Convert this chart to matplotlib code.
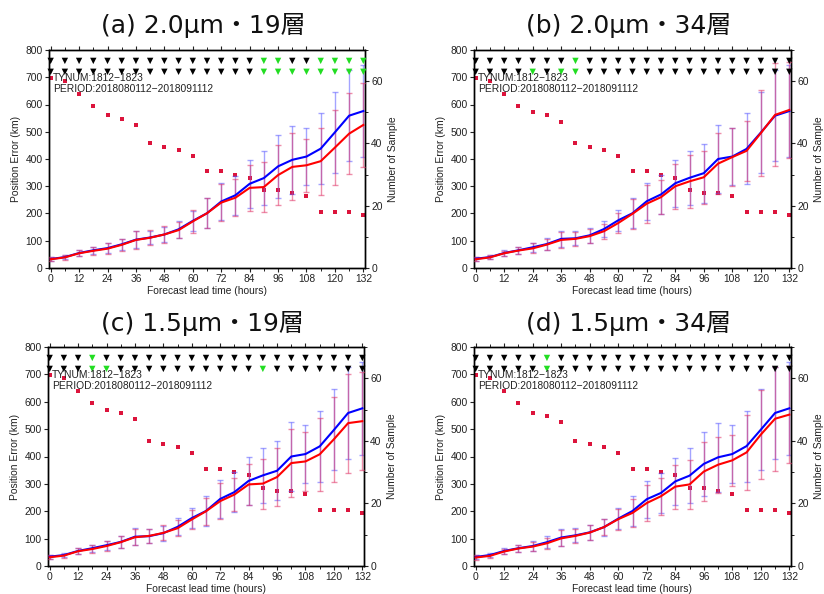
import matplotlib
matplotlib.use('Agg')
import matplotlib.pyplot as plt
from matplotlib.ticker import MultipleLocator

plt.rcParams['font.family'] = ['Liberation Sans', 'DejaVu Sans']

# ---------------- data ----------------
lead = [0, 6, 12, 18, 24, 30, 36, 42, 48, 54, 60, 66, 72, 78, 84, 90, 96, 102, 108, 114, 120, 126, 132]

titles = ['(a) 2.0μm・19層', '(b) 2.0μm・34層', '(c) 1.5μm・19層', '(d) 1.5μm・34層']

# control (blue) mean error and std, two sample sets
blue_A = [33, 40, 55, 65, 73, 87, 104, 112, 123, 142, 173, 201, 244, 267, 309, 330, 373, 397, 409, 438, 498, 559, 576]
blue_B = [34, 40, 55, 65, 76, 88, 107, 109, 120, 143, 175, 201, 245, 270, 311, 331, 348, 400, 409, 437, 497, 559, 576]
blue_std_A = [8, 7, 10, 13, 17, 21, 30, 25, 27, 31, 38, 55, 68, 72, 87, 100, 116, 125, 105, 130, 148, 168, 170]
blue_std_B = [8, 7, 10, 13, 17, 21, 30, 25, 27, 31, 38, 55, 68, 72, 87, 100, 108, 125, 105, 130, 148, 168, 170]

# experiment (red) mean error and std
red_a = [32, 39, 54, 63, 71, 85, 103, 111, 123, 139, 171, 201, 240, 258, 294, 297, 341, 371, 377, 392, 442, 493, 525]
red_b = [32, 39, 54, 64, 72, 86, 103, 107, 117, 135, 165, 199, 236, 260, 300, 318, 333, 383, 407, 430, 495, 562, 580]
red_c = [32, 38, 54, 62, 73, 87, 105, 110, 121, 138, 170, 200, 237, 261, 298, 301, 325, 376, 382, 408, 463, 522, 529]
red_d = [31, 37, 53, 64, 71, 83, 101, 110, 122, 142, 171, 194, 230, 255, 290, 298, 345, 370, 386, 415, 480, 538, 553]
red_std_a = [8, 8, 11, 15, 20, 23, 32, 28, 30, 29, 43, 55, 68, 69, 84, 92, 109, 123, 97, 123, 137, 148, 155]
red_std_b = [8, 7, 10, 14, 18, 21, 30, 26, 27, 28, 37, 55, 70, 63, 83, 97, 98, 113, 105, 109, 158, 189, 175]
red_std_c = [8, 7, 10, 13, 17, 21, 29, 25, 27, 29, 34, 49, 66, 61, 76, 91, 107, 124, 107, 133, 156, 181, 178]
red_std_d = [8, 7, 10, 13, 17, 21, 29, 25, 27, 30, 39, 51, 65, 68, 80, 89, 108, 103, 92, 138, 162, 190, 177]

# number of samples
n_A = [61, 60, 56, 52, 49, 48, 46, 40, 39, 38, 36, 31, 31, 30, 29, 25, 25, 24, 23, 18, 18, 18, 17]
n_B = [61, 60, 56, 52, 50, 49, 47, 40, 39, 38, 36, 31, 31, 30, 29, 25, 24, 24, 23, 18, 18, 18, 17]

# significance markers (lead hours shown green); upper row / lower row
green_top_a = [90, 96, 114, 120, 126, 132]
green_bot_a = [90, 96, 102, 108, 114, 120, 126, 132]
green_top_b = [42]
green_bot_b = [24, 36, 42]
green_top_c = [18]
green_bot_c = [18, 24, 90]
green_top_d = [30]
green_bot_d = [30]

panels = [
    dict(title=titles[0], blue=blue_A, bstd=blue_std_A, red=red_a, rstd=red_std_a, n=n_A, gt=green_top_a, gb=green_bot_a),
    dict(title=titles[1], blue=blue_B, bstd=blue_std_B, red=red_b, rstd=red_std_b, n=n_B, gt=green_top_b, gb=green_bot_b),
    dict(title=titles[2], blue=blue_B, bstd=blue_std_B, red=red_c, rstd=red_std_c, n=n_B, gt=green_top_c, gb=green_bot_c),
    dict(title=titles[3], blue=blue_A, bstd=blue_std_A, red=red_d, rstd=red_std_d, n=n_A, gt=green_top_d, gb=green_bot_d),
]

# ---------------- layout ----------------
W, H = 824, 594
fig = plt.figure(figsize=(W / 100, H / 100), dpi=100)

rects_px = [(49, 50, 316, 218), (474, 50, 317, 218), (48, 347, 316, 219), (474, 347, 317, 219)]
txtc = '#222222'
fs = 7.4

for p, (x0, y0, w, h) in zip(panels, rects_px):
    ax = fig.add_axes([x0 / W, 1 - (y0 + h) / H, w / W, h / H])
    ax2 = ax.twinx()
    ax.set_zorder(ax2.get_zorder() + 1)
    ax.patch.set_visible(False)

    ax.errorbar(lead, p['blue'], yerr=p['bstd'], fmt='none', ecolor=(0.35, 0.35, 1.0, 0.55),
                elinewidth=1.0, capsize=2.2, capthick=1.0, zorder=2)
    ax.errorbar(lead, p['red'], yerr=p['rstd'], fmt='none', ecolor=(0.88, 0.2, 0.4, 0.55),
                elinewidth=1.0, capsize=2.2, capthick=1.0, zorder=3)
    ax.plot(lead, p['blue'], color='#0000ff', lw=1.5, zorder=4)
    ax.plot(lead, p['red'], color='#ff0000', lw=1.5, zorder=5)

    top_cols = ['#22dd22' if t in p['gt'] else 'black' for t in lead]
    bot_cols = ['#22dd22' if t in p['gb'] else 'black' for t in lead]
    ax.scatter(lead, [760] * len(lead), marker='v', s=21, c=top_cols, linewidths=0, zorder=6, clip_on=False)
    ax.scatter(lead, [720] * len(lead), marker='v', s=21, c=bot_cols, linewidths=0, zorder=6, clip_on=False)

    ax2.plot(lead, p['n'], 's', color='#dc143c', ms=2.5, mew=0)

    ax.set_xlim(-0.7, 132.7)
    ax.set_ylim(0, 800)
    ax2.set_ylim(0, 70)
    ax.xaxis.set_major_locator(MultipleLocator(12))
    ax.xaxis.set_minor_locator(MultipleLocator(6))
    ax.yaxis.set_major_locator(MultipleLocator(100))
    ax2.yaxis.set_major_locator(MultipleLocator(20))
    ax2.yaxis.set_minor_locator(MultipleLocator(10))

    ax.tick_params(axis='both', which='major', direction='out', length=3, width=0.8,
                   labelsize=fs, colors=txtc, pad=1.5)
    ax.tick_params(axis='x', which='both', top=True)
    ax.tick_params(axis='x', which='minor', length=2, width=0.6)
    ax2.tick_params(axis='y', which='major', direction='out', length=3, width=0.8,
                    labelsize=fs, colors=txtc, pad=1.5)
    ax2.tick_params(axis='y', which='minor', length=2, width=0.6)

    for sp in list(ax.spines.values()) + list(ax2.spines.values()):
        sp.set_linewidth(1.0)
        sp.set_color('black')

    ax.set_xlabel('Forecast lead time (hours)', fontsize=fs, color=txtc, labelpad=1.5)
    ax.set_ylabel('Position Error (km)', fontsize=fs, color=txtc, labelpad=3)
    ax2.set_ylabel('Number of Sample', fontsize=fs, color=txtc, labelpad=4)

    ax.text(1.0, 697, 'TYNUM:1812\u22121823', fontsize=fs, color=txtc, va='center', ha='left', zorder=7)
    ax.text(1.0, 657, 'PERIOD:2018080112\u22122018091112', fontsize=fs, color=txtc, va='center', ha='left', zorder=7)

    fig.text((x0 + w / 2 - 4) / W, 1 - (y0 - 24) / H, p['title'], fontsize=18, ha='center', va='center',
             color='#111111', family=['DejaVu Sans', 'Noto Sans CJK JP'])

fig.savefig('out.png', dpi=100)
